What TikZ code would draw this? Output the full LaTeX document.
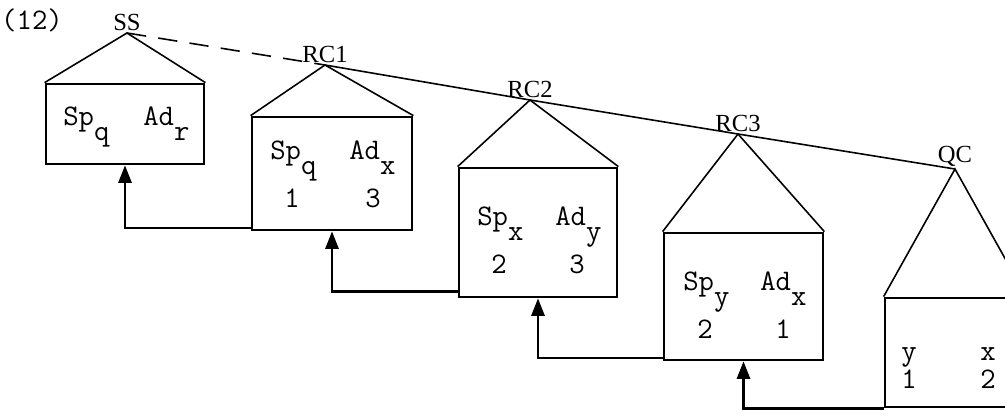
\documentclass[tikz,border=0pt]{standalone}
\usepackage{fontspec}
\newfontfamily\tagfont{Liberation Serif}
\usepackage{tikz}
\usetikzlibrary{positioning,arrows.meta}
\newcommand{\low}[1]{\raisebox{-9pt}{#1}}
\tikzset{
  house/.style = {draw, line width=1.6pt, inner sep=0pt},
  roof/.style  = {line width=0.9pt},
  txt/.style   = {font=\ttfamily\fontsize{17}{19}\selectfont, inner sep=0pt},
  tag/.style   = {font=\tagfont\fontsize{14}{15}\selectfont, inner sep=1pt},
  flow/.style  = {-{Triangle[length=10pt, width=7.5pt]}, line width=1.4pt},
}
\begin{document}
\begin{tikzpicture}[x=0.02cm, y=-0.02cm]
  \useasboundingbox (0,0) rectangle (1005,414);
  \clip (0,0) rectangle (1005,414);
  % apexes
  \coordinate (ssTop) at (127,33);
  \coordinate (rc1Top) at (325,65);
  \coordinate (rc2Top) at (530,100);
  \coordinate (rc3Top) at (738,134);
  \coordinate (qcTop) at (955,169);
  % boxes
  \node[house, minimum width=3.16cm, minimum height=1.6cm] (ss) at (125,124) {};
  \node[house, minimum width=3.2cm, minimum height=2.26cm] (rc1) at (332,173.5) {};
  \node[house, minimum width=3.16cm, minimum height=2.58cm] (rc2) at (538,232.5) {};
  \node[house, minimum width=3.18cm, minimum height=2.54cm] (rc3) at (743.5,296.5) {};
  \node[house, minimum width=2.8cm, minimum height=2.18cm] (qc) at (955,352.5) {};
  \foreach \b in {ss,rc1,rc2,rc3,qc}
    \draw[roof] (\b.north west) -- (\b Top) -- (\b.north east);
  % labels
  \node[txt] (num) at (32,20) {(12)};
  \node[tag, above] (ssL) at (ssTop) {SS};
  \node[tag, above] (rc1L) at (rc1Top) {RC1};
  \node[tag, above] (rc2L) at (rc2Top) {RC2};
  \node[tag, above] (rc3L) at (rc3Top) {RC3};
  \node[tag, above] (qcL) at (qcTop) {QC};
  \draw[roof, dash pattern=on 11pt off 7pt] (ssTop) -- (rc1Top);
  \draw[roof] (rc1Top) -- (rc2Top) -- (rc3Top) -- (qcTop);
  % contents
  \node[txt, anchor=base west] (ssA) at (63,125) {Sp\low{q}};
  \node[txt, anchor=base west] (ssB) at (143,125) {Ad\low{r}};
  \node[txt, anchor=base west] (rc1A) at (270,159) {Sp\low{q}};
  \node[txt, anchor=base west] (rc1B) at (349,159) {Ad\low{x}};
  \node[txt, anchor=base] (rc1C) at (292,207) {1};
  \node[txt, anchor=base] (rc1D) at (373,207) {3};
  \node[txt, anchor=base west] (rc2A) at (477,225) {Sp\low{x}};
  \node[txt, anchor=base west] (rc2B) at (555,225) {Ad\low{y}};
  \node[txt, anchor=base] (rc2C) at (499,273) {2};
  \node[txt, anchor=base] (rc2D) at (577,273) {3};
  \node[txt, anchor=base west] (rc3A) at (683,290) {Sp\low{y}};
  \node[txt, anchor=base west] (rc3B) at (760,290) {Ad\low{x}};
  \node[txt, anchor=base] (rc3C) at (705,338) {2};
  \node[txt, anchor=base] (rc3D) at (783,338) {1};
  \node[txt, anchor=base] (qcA) at (909,360) {y};
  \node[txt, anchor=base] (qcB) at (988,360) {x};
  \node[txt, anchor=base] (qcC) at (909,388) {1};
  \node[txt, anchor=base] (qcD) at (988,388) {2};
  % returns
  \draw[flow] ([yshift=2pt]rc1.south west) -| (ss.south);
  \draw[flow] ([yshift=4pt]rc2.south west) -| (rc1.south);
  \draw[flow] ([yshift=2pt]rc3.south west) -| (rc2.south);
  \draw[flow] (qc.south west) -| (rc3.south);
\end{tikzpicture}
\end{document}
